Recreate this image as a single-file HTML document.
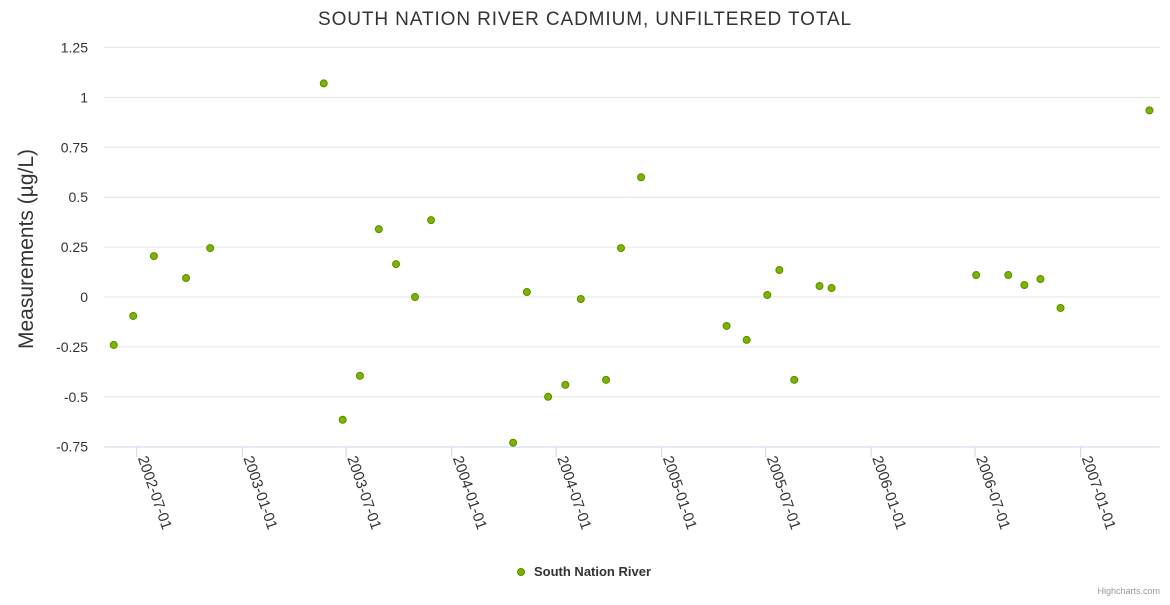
<!DOCTYPE html>
<html><head><meta charset="utf-8"><style>
body{margin:0;background:#fff;font-family:"Liberation Sans",sans-serif;}
svg text{font-family:"Liberation Sans",sans-serif;}
</style></head><body>
<svg id="chart" width="1170" height="600" xmlns="http://www.w3.org/2000/svg">
<rect width="1170" height="600" fill="#fff"/>
<text x="585" y="25" text-anchor="middle" font-size="19" letter-spacing="0.9" fill="#333">SOUTH NATION RIVER CADMIUM, UNFILTERED TOTAL</text>
<text transform="translate(33,249) rotate(-90)" text-anchor="middle" font-size="21" fill="#333">Measurements (µg/L)</text>
<g id="grid"></g><g id="xaxis"></g><g id="pts"></g>
<g>
<circle cx="521" cy="572" r="3.5" fill="#7cb500" stroke="#5a8a00" stroke-width="1"/>
<text x="534" y="576" font-size="13" font-weight="bold" fill="#333">South Nation River</text>
</g>
<text x="1160" y="594" text-anchor="end" font-size="9" fill="#999">Highcharts.com</text>
</svg>
<script>
const yTicks=[-0.75,-0.5,-0.25,0,0.25,0.5,0.75,1,1.25];
const yTickLabels=["-0.75","-0.5","-0.25","0","0.25","0.5","0.75","1","1.25"];
const xTicks=["2002-07-01","2003-01-01","2003-07-01","2004-01-01","2004-07-01","2005-01-01","2005-07-01","2006-01-01","2006-07-01","2007-01-01"];
const dates=["2002-05-22","2002-06-25","2002-07-31","2002-09-25","2002-11-06","2003-05-23","2003-06-25","2003-07-25","2003-08-27","2003-09-26","2003-10-29","2003-11-26","2004-04-17","2004-05-11","2004-06-17","2004-07-17","2004-08-13","2004-09-26","2004-10-22","2004-11-26","2005-04-24","2005-05-29","2005-07-04","2005-07-25","2005-08-20","2005-10-03","2005-10-24","2006-07-03","2006-08-28","2006-09-25","2006-10-23","2006-11-27","2007-05-01"];
const values=[-0.24,-0.095,0.205,0.095,0.245,1.07,-0.615,-0.395,0.34,0.165,0.0,0.385,-0.73,0.025,-0.5,-0.44,-0.01,-0.415,0.245,0.60,-0.145,-0.215,0.01,0.135,-0.415,0.055,0.045,0.11,0.11,0.06,0.09,-0.055,0.935];
const NS="http://www.w3.org/2000/svg";
const t0=Date.UTC(2002,6,1);
function day(s){const p=s.split("-");return (Date.UTC(+p[0],+p[1]-1,+p[2])-t0)/86400000;}
function X(s){return 136.7+day(s)*0.5738;}
function Y(v){return 297-v*199.6;}
function mk(tag,attrs,parent){const e=document.createElementNS(NS,tag);for(const k in attrs)e.setAttribute(k,attrs[k]);parent.appendChild(e);return e;}
const grid=document.getElementById("grid"),xa=document.getElementById("xaxis"),pts=document.getElementById("pts");
yTicks.forEach((v,i)=>{
  if(v!==-0.75){const l=mk("line",{x1:104,x2:1160,y1:Y(v),y2:Y(v),stroke:"#e6e6e6","stroke-width":1},grid);
  
  }
  const t=mk("text",{x:88,y:Y(v)+5,"text-anchor":"end","font-size":"14",fill:"#333"},grid);
  
  
  t.textContent=yTickLabels[i];
});
const ax=mk("line",{x1:104,x2:1160,y1:447,y2:447,stroke:"#ccd6eb","stroke-width":1},xa);


xTicks.forEach(s=>{
  const x=X(s);
  const tk=mk("line",{x1:x,x2:x,y1:447,y2:457,stroke:"#ccd6eb"},xa);
  
  
  const t=mk("text",{transform:`translate(${x+1},${458}) rotate(71)`,"font-size":"15",fill:"#333"},xa);
  
  
  t.textContent=s;
});
dates.forEach((d,i)=>{
  const c=mk("circle",{cx:X(d),cy:Y(values[i]),r:3.5,fill:"#7cb500",stroke:"#5a8a00","stroke-width":1},pts);
  
  
});
</script>
</body></html>
